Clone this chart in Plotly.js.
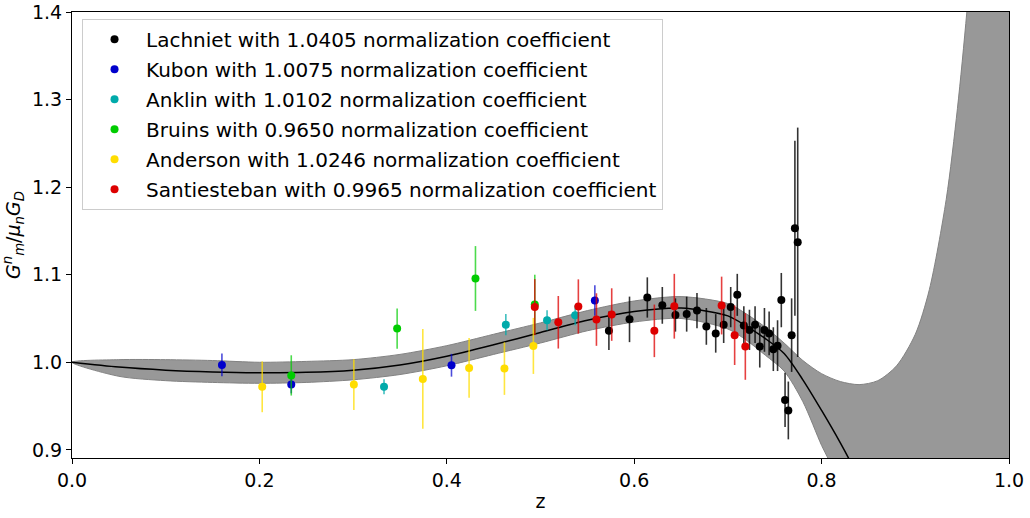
<!DOCTYPE html>
<html>
<head>
<meta charset="utf-8">
<script src="https://cdn.plot.ly/plotly-3.0.1.min.js"></script>
<style>html,body{margin:0;padding:0;background:#fff;}#chart{width:1030px;height:518px;}</style>
</head>
<body>
<div id="chart"></div>
<script>
// ---- fitted curve ----
const curveZ = [0, 0.05, 0.1, 0.15, 0.2, 0.25, 0.3, 0.35, 0.4, 0.45, 0.5, 0.55, 0.6, 0.65, 0.7, 0.72, 0.74, 0.76, 0.78, 0.8, 0.82, 0.83, 0.84];
const curveY = [1.0, 0.9945, 0.991, 0.989, 0.988, 0.9885, 0.991, 0.997, 1.007, 1.02, 1.034, 1.048, 1.058, 1.062, 1.053, 1.041, 1.027, 1.01, 0.98, 0.945, 0.908, 0.888, 0.866];

// ---- uncertainty band ----
const bandUpZ = [0, 0.05, 0.1, 0.15, 0.2, 0.25, 0.3, 0.35, 0.4, 0.45, 0.5, 0.55, 0.6, 0.65, 0.7, 0.72, 0.74, 0.76, 0.78, 0.8, 0.82, 0.84, 0.86, 0.88, 0.9, 0.915, 0.933, 0.945, 0.955, 0.97, 1.0];
const bandUpY = [1.0, 1.003, 1.003, 1.002, 1.0, 1.001, 1.003, 1.009, 1.019, 1.032, 1.045, 1.059, 1.07, 1.075, 1.067, 1.055, 1.04, 1.022, 1.002, 0.987, 0.978, 0.9745, 0.979, 0.996, 1.032, 1.083, 1.186, 1.29, 1.4, 1.6, 2.1];
const bandLoZ = [0, 0.05, 0.1, 0.15, 0.2, 0.25, 0.3, 0.35, 0.4, 0.45, 0.5, 0.55, 0.6, 0.65, 0.7, 0.72, 0.74, 0.76, 0.78, 0.8, 0.807, 0.82, 0.85, 1.0];
const bandLoY = [1.0, 0.984, 0.979, 0.977, 0.976, 0.977, 0.98, 0.986, 0.996, 1.009, 1.022, 1.036, 1.046, 1.05, 1.038, 1.025, 1.008, 0.99, 0.955, 0.905, 0.89, 0.86, 0.8, 0.5];

// ---- data sets ----
const lachZ = [0.573, 0.595, 0.614, 0.630, 0.644, 0.656, 0.667, 0.677, 0.687, 0.6955, 0.703, 0.710, 0.717, 0.723, 0.729, 0.734, 0.739, 0.744, 0.7485, 0.753, 0.757, 0.761, 0.7645, 0.768, 0.7715, 0.7745];
const lachY = [1.036, 1.049, 1.074, 1.065, 1.054, 1.055, 1.059, 1.041, 1.033, 1.043, 1.063, 1.077, 1.042, 1.037, 1.043, 1.018, 1.037, 1.033, 1.015, 1.019, 1.071, 0.957, 0.945, 1.031, 1.153, 1.137];
const lachE = [0.022, 0.026, 0.023, 0.021, 0.019, 0.020, 0.020, 0.021, 0.022, 0.021, 0.023, 0.024, 0.022, 0.023, 0.021, 0.024, 0.025, 0.025, 0.025, 0.029, 0.031, 0.031, 0.033, 0.042, 0.100, 0.131];

const kubonZ = [0.160, 0.234, 0.405, 0.558];
const kubonY = [0.997, 0.9745, 0.9966, 1.0705];
const kubonE = [0.013, 0.010, 0.013, 0.0175];

const anklinZ = [0.333, 0.463, 0.507, 0.537];
const anklinY = [0.972, 1.043, 1.048, 1.0537];
const anklinE = [0.0086, 0.012, 0.0114, 0.0114];

const bruinsZ = [0.234, 0.347, 0.4306, 0.4939];
const bruinsY = [0.985, 1.0385, 1.0957, 1.066];
const bruinsE = [0.023, 0.023, 0.037, 0.034];

const andZ = [0.203, 0.3008, 0.3744, 0.4238, 0.4615, 0.4924];
const andY = [0.972, 0.9745, 0.981, 0.9936, 0.9928, 1.0187];
const andE = [0.029, 0.029, 0.057, 0.034, 0.030, 0.032];

const santZ = [0.4939, 0.519, 0.5404, 0.5597, 0.576, 0.6215, 0.6428, 0.6933, 0.7072, 0.7186];
const santY = [1.063, 1.0457, 1.0637, 1.0488, 1.0545, 1.0359, 1.064, 1.0648, 1.0309, 1.018];
const santE = [0.032, 0.030, 0.031, 0.030, 0.030, 0.030, 0.037, 0.033, 0.034, 0.038];

const seriesNames = [
  'Lachniet with 1.0405 normalization coefficient',
  'Kubon with 1.0075 normalization coefficient',
  'Anklin with 1.0102 normalization coefficient',
  'Bruins with 0.9650 normalization coefficient',
  'Anderson with 1.0246 normalization coefficient',
  'Santiesteban with 0.9965 normalization coefficient'
];
const seriesColors = ['#000000', '#0000cc', '#00aaaa', '#00cc00', '#ffdd00', '#dd0000'];
const barColors = ['rgba(0,0,0,0.8)', 'rgba(0,0,204,0.7)', 'rgba(0,170,170,0.75)', 'rgba(0,204,0,0.7)', 'rgba(255,221,0,0.75)', 'rgba(221,0,0,0.75)'];

const datasets = [
  [lachZ, lachY, lachE], [kubonZ, kubonY, kubonE], [anklinZ, anklinY, anklinE],
  [bruinsZ, bruinsY, bruinsE], [andZ, andY, andE], [santZ, santY, santE]
];

const traces = [];
traces.push({
  x: bandUpZ.concat(bandLoZ.slice().reverse()),
  y: bandUpY.concat(bandLoY.slice().reverse()),
  mode: 'lines', fill: 'toself', fillcolor: 'rgb(152,152,152)',
  line: {color: 'rgb(130,130,130)', width: 1, shape: 'spline', smoothing: 0.8},
  showlegend: false, hoverinfo: 'skip'
});
traces.push({
  x: curveZ, y: curveY, mode: 'lines',
  line: {color: '#000', width: 1.5, shape: 'spline', smoothing: 0.8},
  showlegend: false, hoverinfo: 'skip'
});
datasets.forEach((d, i) => {
  traces.push({
    x: d[0], y: d[1], mode: 'markers', type: 'scatter',
    name: seriesNames[i], legendgroup: 'g' + i,
    marker: {color: seriesColors[i], size: 8},
    error_y: {type: 'data', array: d[2], visible: true, color: barColors[i], thickness: 1.6, width: 0}
  });
});

const font = {family: 'DejaVu Sans, sans-serif', size: 19, color: '#000'};
const layout = {
  width: 1030, height: 518,
  margin: {l: 72, r: 21, t: 12, b: 60},
  paper_bgcolor: '#fff', plot_bgcolor: '#fff',
  font: font,
  showlegend: true,
  legend: {
    x: 0.0107, y: 0.985, xanchor: 'left', yanchor: 'top',
    bgcolor: 'rgba(255,255,255,0.85)', bordercolor: '#cccccc', borderwidth: 1,
    font: {family: 'DejaVu Sans, sans-serif', size: 20, color: '#000'},
    traceorder: 'grouped', tracegroupgap: 1, itemwidth: 53
  },
  xaxis: {
    range: [0, 1], dtick: 0.2, tick0: 0, tickformat: '.1f',
    showgrid: false, zeroline: false, showline: true, linecolor: '#000', linewidth: 1,
    mirror: true, ticks: 'outside', ticklen: 5, tickcolor: '#000',
    title: {text: 'z', font: font, standoff: 4}
  },
  yaxis: {
    range: [0.8907, 1.4], dtick: 0.1, tick0: 0.9, tickformat: '.1f',
    showgrid: false, zeroline: false, showline: true, linecolor: '#000', linewidth: 1,
    mirror: true, ticks: 'outside', ticklen: 5, tickcolor: '#000',
    title: {text: '<i>G</i><sup><i>n</i></sup><sub><i>m</i></sub>/<i>μ</i><sub><i>n</i></sub><i>G</i><sub><i>D</i></sub>', font: font, standoff: 8}
  }
};

Plotly.newPlot('chart', traces, layout, {displayModeBar: false, staticPlot: true});
</script>
</body>
</html>
